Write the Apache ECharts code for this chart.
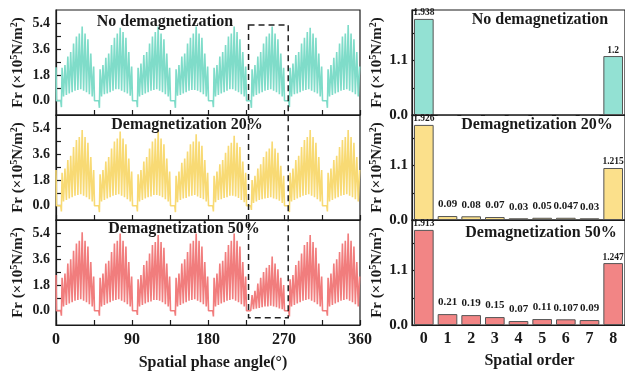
<!DOCTYPE html>
<html><head><meta charset="utf-8">
<script src="https://cdn.jsdelivr.net/npm/echarts@6/dist/echarts.min.js"></script>
<style>html,body{margin:0;padding:0;background:#fff}#c{width:625px;height:375px}</style>
</head><body><div id="c"></div>
<script>
// ---------- data ----------
const angleTicks = [0, 90, 180, 270, 360];
const forceTicks = [0, 1.8, 3.6, 5.4];
const forceTickMarks = [0, 0.9, 1.8, 2.7, 3.6, 4.5, 5.4];
const spectrumTicks = [0, 1.1];
const spatialOrders = ['0', '1', '2', '3', '4', '5', '6', '7', '8'];
const panelTitles = ['No demagnetization', 'Demagnetization 20%', 'Demagnetization 50%'];

// waveform, per 45° hump: tooth peaks, troughs between teeth, dip before the hump
const noDemagStart = 2.35;
const noDemagDips = [-0.45, -0.5, -0.45, -0.5, -0.45, -0.5, -0.45, -0.5];
const noDemagPeaks = [
  [2.3,2.5,3.1,3.4,4.0,4.5,4.7,5.2,4.7,4.3,3.3,2.4],
  [2.2,2.5,3.0,3.3,3.9,4.4,4.7,5.1,4.8,4.4,3.4,2.4],
  [2.3,2.6,3.2,3.4,4.0,4.5,4.8,5.2,4.7,4.3,3.3,2.3],
  [2.2,2.5,3.1,3.3,4.0,4.4,4.7,5.2,4.7,4.4,3.3,2.4],
  [2.3,2.5,3.1,3.4,3.9,4.5,4.7,5.2,4.8,4.3,3.4,2.4],
  [2.2,2.5,3.1,3.4,4.0,4.5,4.7,5.2,4.7,4.3,3.3,2.3],
  [2.3,2.6,3.2,3.4,4.0,4.4,4.8,5.1,4.7,4.4,3.3,2.4],
  [2.2,2.5,3.0,3.4,4.0,4.5,4.7,5.3,4.7,4.3,3.4,2.4]
];
const noDemagTroughs = [
  [0.3,0.4,0.5,0.6,0.7,0.75,0.8,0.7,0.6,0.45,0.3],
  [0.3,0.45,0.5,0.6,0.7,0.8,0.8,0.7,0.6,0.5,0.35],
  [0.3,0.4,0.5,0.6,0.7,0.75,0.8,0.7,0.6,0.45,0.3],
  [0.35,0.4,0.5,0.6,0.7,0.75,0.75,0.7,0.6,0.45,0.3],
  [0.3,0.4,0.5,0.6,0.7,0.8,0.8,0.7,0.6,0.45,0.3],
  [0.3,0.4,0.5,0.6,0.7,0.75,0.8,0.7,0.6,0.45,0.3],
  [0.3,0.45,0.5,0.6,0.7,0.75,0.8,0.7,0.6,0.5,0.3],
  [0.3,0.4,0.5,0.6,0.7,0.75,0.8,0.7,0.6,0.45,0.3]
];

const demag20Start = 2.5;
const demag20Dips = [-0.4, -0.45, -0.4, -0.45, -0.4, -0.3, -0.45, -0.4];
const demag20Peaks = [
  [2.3,2.6,3.2,3.5,4.1,4.6,4.8,5.3,4.8,4.4,3.4,2.5],
  [2.2,2.5,3.1,3.4,4.0,4.5,4.7,5.2,4.7,4.3,3.3,2.4],
  [2.2,2.5,3.1,3.4,4.0,4.5,4.7,5.2,4.7,4.3,3.3,2.4],
  [2.1,2.4,3.0,3.3,3.8,4.3,4.5,5.0,4.5,4.2,3.2,2.3],
  [2.1,2.4,2.9,3.2,3.7,4.2,4.4,4.9,4.4,4.1,3.1,2.3],
  [1.8,2.1,2.6,2.9,3.4,3.8,4.0,4.5,4.0,3.7,2.8,2.1],
  [2.3,2.6,3.2,3.5,4.1,4.6,4.8,5.3,4.8,4.4,3.4,2.5],
  [2.3,2.6,3.2,3.5,4.1,4.6,4.8,5.3,4.8,4.4,3.4,2.5]
];
const demag20Troughs = [
  [0.3,0.4,0.5,0.6,0.7,0.75,0.8,0.7,0.6,0.45,0.3],
  [0.3,0.4,0.5,0.6,0.7,0.75,0.8,0.7,0.6,0.45,0.3],
  [0.3,0.4,0.5,0.6,0.65,0.75,0.75,0.7,0.6,0.45,0.3],
  [0.25,0.4,0.5,0.55,0.65,0.7,0.75,0.65,0.55,0.45,0.3],
  [0.25,0.4,0.45,0.55,0.6,0.7,0.7,0.65,0.55,0.4,0.25],
  [0.2,0.3,0.4,0.45,0.5,0.55,0.6,0.5,0.45,0.35,0.2],
  [0.3,0.4,0.5,0.6,0.7,0.75,0.8,0.7,0.6,0.45,0.3],
  [0.3,0.4,0.5,0.6,0.7,0.75,0.8,0.7,0.6,0.45,0.3]
];

const demag50Start = 2.5;
const demag50Dips = [-0.35, -0.35, -0.3, -0.35, -0.4, 0.05, -0.4, -0.35];
const demag50Peaks = [
  [2.3,2.6,3.3,3.6,4.2,4.7,4.9,5.5,4.9,4.5,3.4,2.4],
  [2.3,2.6,3.3,3.5,4.1,4.7,4.9,5.4,4.9,4.5,3.4,2.4],
  [2.2,2.5,3.2,3.5,4.0,4.6,4.8,5.3,4.8,4.4,3.3,2.4],
  [2.3,2.6,3.3,3.6,4.1,4.7,4.9,5.4,4.9,4.5,3.4,2.4],
  [2.3,2.6,3.3,3.5,4.1,4.6,4.9,5.4,4.9,4.5,3.4,2.4],
  [1.1,1.4,1.9,2.3,2.7,3.0,3.2,3.8,3.3,2.9,2.3,1.8],
  [2.2,2.5,3.2,3.5,4.0,4.6,4.8,5.3,4.8,4.4,3.3,2.4],
  [2.3,2.6,3.3,3.6,4.1,4.7,4.9,5.4,4.9,4.5,3.4,2.4]
];
const demag50Troughs = [
  [0.3,0.4,0.5,0.6,0.7,0.75,0.8,0.7,0.6,0.45,0.3],
  [0.3,0.4,0.5,0.6,0.7,0.75,0.8,0.7,0.6,0.45,0.3],
  [0.3,0.4,0.5,0.6,0.65,0.75,0.75,0.7,0.6,0.45,0.3],
  [0.3,0.4,0.5,0.6,0.7,0.75,0.8,0.7,0.6,0.45,0.3],
  [0.3,0.4,0.5,0.6,0.7,0.75,0.8,0.7,0.6,0.45,0.3],
  [0.1,0.15,0.2,0.25,0.3,0.3,0.35,0.3,0.25,0.15,0.1],
  [0.3,0.4,0.5,0.6,0.7,0.75,0.8,0.7,0.6,0.45,0.3],
  [0.3,0.4,0.5,0.6,0.7,0.75,0.8,0.7,0.6,0.45,0.3]
];

// spatial-order spectrum: drawn bar heights and printed labels
const noDemagBars = [1.94, 0, 0, 0, 0, 0, 0, 0, 1.19];
const noDemagLabels = ['1.938', '', '', '', '', '', '', '', '1.2'];
const demag20Bars = [1.92, 0.08, 0.075, 0.06, 0.035, 0.045, 0.045, 0.035, 1.05];
const demag20Labels = ['1.926', '0.09', '0.08', '0.07', '0.03', '0.05', '0.047', '0.03', '1.215'];
const demag50Bars = [1.92, 0.22, 0.2, 0.16, 0.08, 0.12, 0.115, 0.1, 1.25];
const demag50Labels = ['1.913', '0.21', '0.19', '0.15', '0.07', '0.11', '0.107', '0.09', '1.247'];

// highlighted (demagnetised) pole region
const boxAngles = [228, 275];
const boxTopValue = 5.3;
const boxBottomValue = -0.5;

// ---------- build ----------
const HUMP = 45, TOOTH0 = 7.2, PITCH = 3.4;
function buildWave(start, dips, peaks, troughs) {
  const pts = [[0, start]];
  for (let k = 0; k < peaks.length; k++) {
    const b = k * HUMP;
    pts.push([b + 0.6, 0], [b + 5.6, 0], [b + 6.4, dips[k]]);
    for (let j = 0; j < peaks[k].length; j++) {
      pts.push([b + TOOTH0 + j * PITCH, peaks[k][j]]);
      if (j < troughs[k].length) pts.push([b + TOOTH0 + (j + 0.5) * PITCH, troughs[k][j]]);
    }
  }
  return pts;
}
const waves = [
  buildWave(noDemagStart, noDemagDips, noDemagPeaks, noDemagTroughs),
  buildWave(demag20Start, demag20Dips, demag20Peaks, demag20Troughs),
  buildWave(demag50Start, demag50Dips, demag50Peaks, demag50Troughs)
];
const bars = [[noDemagBars, noDemagLabels], [demag20Bars, demag20Labels], [demag50Bars, demag50Labels]];

const FONT = 'Liberation Serif';
const lineColors = ['#7fdcc9', '#f8da74', '#f17d7d'];
const barColors = ['#93e1d3', '#fbe08b', '#f28585'];
const INK = '#1a1a1a';

const yName = '{a|Fr (×10}{s|5}{a|N/m}{s|2}{a|)}';
const yNameStyle = {
  rich: {
    a: { fontFamily: FONT, fontWeight: 'bold', fontSize: 15, color: INK },
    s: { fontFamily: FONT, fontWeight: 'bold', fontSize: 10, color: INK, padding: [0, 0, 8, 0] }
  }
};

const grids = [], xAxes = [], yAxes = [], series = [];
const tops = [10, 115, 220];
for (let i = 0; i < 3; i++) {
  grids.push({ left: 56, top: tops[i], width: 304, height: 105, show: true, borderColor: INK, borderWidth: 1.2, containLabel: false });
}
for (let i = 0; i < 3; i++) {
  grids.push({ left: 412, top: tops[i], width: 218, height: 105, show: true, borderColor: INK, borderWidth: 1.2, containLabel: false });
}
for (let i = 0; i < 3; i++) {
  const bottom = i === 2;
  xAxes.push({
    type: 'value', gridIndex: i, min: 0, max: 360, interval: 45,
    axisLine: { show: true, onZero: false, lineStyle: { color: INK, width: 1.2 } },
    axisTick: { show: true, inside: true, length: 5, lineStyle: { color: INK, width: 1.2 } },
    splitLine: { show: false },
    axisLabel: { show: bottom, customValues: angleTicks, fontFamily: FONT, fontWeight: 'bold', fontSize: 16, color: INK, margin: 7 },
    name: bottom ? 'Spatial phase angle(°)' : '', nameLocation: 'middle', nameGap: 30,
    nameTextStyle: { fontFamily: FONT, fontWeight: 'bold', fontSize: 16, color: INK, padding: [0, 0, 0, 10] }
  });
  yAxes.push({
    type: 'value', gridIndex: i, min: -1, max: 6.35,
    axisLine: { show: true, onZero: false, lineStyle: { color: INK, width: 1.2 } },
    axisTick: { show: true, inside: true, length: 5, customValues: forceTickMarks, lineStyle: { color: INK, width: 1.2 } },
    splitLine: { show: false },
    axisLabel: { customValues: forceTicks, formatter: v => v.toFixed(1), fontFamily: FONT, fontWeight: 'bold', fontSize: 14, color: INK, margin: 6 },
    name: yName, nameLocation: 'middle', nameRotate: 90, nameGap: 29, nameTextStyle: yNameStyle
  });
  series.push({
    type: 'line', xAxisIndex: i, yAxisIndex: i, data: waves[i], showSymbol: false, symbol: 'none',
    lineStyle: { color: lineColors[i], width: 1.6 }, animation: false, clip: true
  });
}
for (let i = 0; i < 3; i++) {
  const bottom = i === 2;
  xAxes.push({
    type: 'category', gridIndex: 3 + i, data: spatialOrders,
    axisLine: { show: true, lineStyle: { color: INK, width: 1.2 } },
    axisTick: { show: false },
    axisLabel: { show: bottom, fontFamily: FONT, fontWeight: 'bold', fontSize: 16, color: INK, margin: 6 },
    name: bottom ? 'Spatial order' : '', nameLocation: 'middle', nameGap: 28,
    nameTextStyle: { fontFamily: FONT, fontWeight: 'bold', fontSize: 16, color: INK, padding: [0, 0, 0, 22] }
  });
  yAxes.push({
    type: 'value', gridIndex: 3 + i, min: 0, max: 2.12, interval: 0.55,
    axisLine: { show: true, lineStyle: { color: INK, width: 1.2 } },
    axisTick: { show: true, inside: true, length: 5, lineStyle: { color: INK, width: 1.2 } },
    splitLine: { show: false },
    axisLabel: { customValues: spectrumTicks, formatter: v => v.toFixed(1), fontFamily: FONT, fontWeight: 'bold', fontSize: 15, color: INK, margin: 4 },
    name: yName, nameLocation: 'middle', nameRotate: 90, nameGap: 26, nameTextStyle: yNameStyle
  });
  const [vals, labs] = bars[i];
  series.push({
    type: 'bar', xAxisIndex: 3 + i, yAxisIndex: 3 + i, barWidth: '83%',
    itemStyle: { color: barColors[i], borderColor: '#555', borderWidth: 1 },
    data: vals.map((v, k) => ({
      value: v,
      label: { show: labs[k] !== '', position: 'top', distance: v > 0.5 ? 1 : 6, fontSize: v > 0.5 ? 9.5 : 11,
               fontFamily: FONT, fontWeight: 'bold', color: INK, formatter: () => labs[k] }
    })),
    animation: false
  });
}

const chart = echarts.init(document.getElementById('c'), null, { renderer: 'canvas' });
chart.setOption({ animation: false, backgroundColor: '#fff', grid: grids, xAxis: xAxes, yAxis: yAxes, series: series });

// titles & dashed box
const gfx = [];
const titleStyle = { fontFamily: FONT, fontWeight: 'bold', fontSize: 16, fill: INK, align: 'center', verticalAlign: 'middle' };
const leftTitlePos = [[165, 22], [187, 125], [184, 229]];
const rightTitlePos = [[540, 20], [537, 125], [541, 233]];
for (let i = 0; i < 3; i++) {
  gfx.push({ type: 'text', x: leftTitlePos[i][0], y: leftTitlePos[i][1], style: Object.assign({ text: panelTitles[i] }, titleStyle), z: 50 });
  gfx.push({ type: 'text', x: rightTitlePos[i][0], y: rightTitlePos[i][1], style: Object.assign({ text: panelTitles[i] }, titleStyle), z: 50 });
}
const p1 = chart.convertToPixel({ gridIndex: 0 }, [boxAngles[0], boxTopValue]);
const p2 = chart.convertToPixel({ gridIndex: 2 }, [boxAngles[1], boxBottomValue]);
gfx.push({ type: 'rect', shape: { x: p1[0], y: p1[1], width: p2[0] - p1[0], height: p2[1] - p1[1] },
  style: { fill: 'none', stroke: '#222', lineWidth: 1.5, lineDash: [6, 4] }, z: 60 });
chart.setOption({ graphic: gfx });
</script>
</body></html>
